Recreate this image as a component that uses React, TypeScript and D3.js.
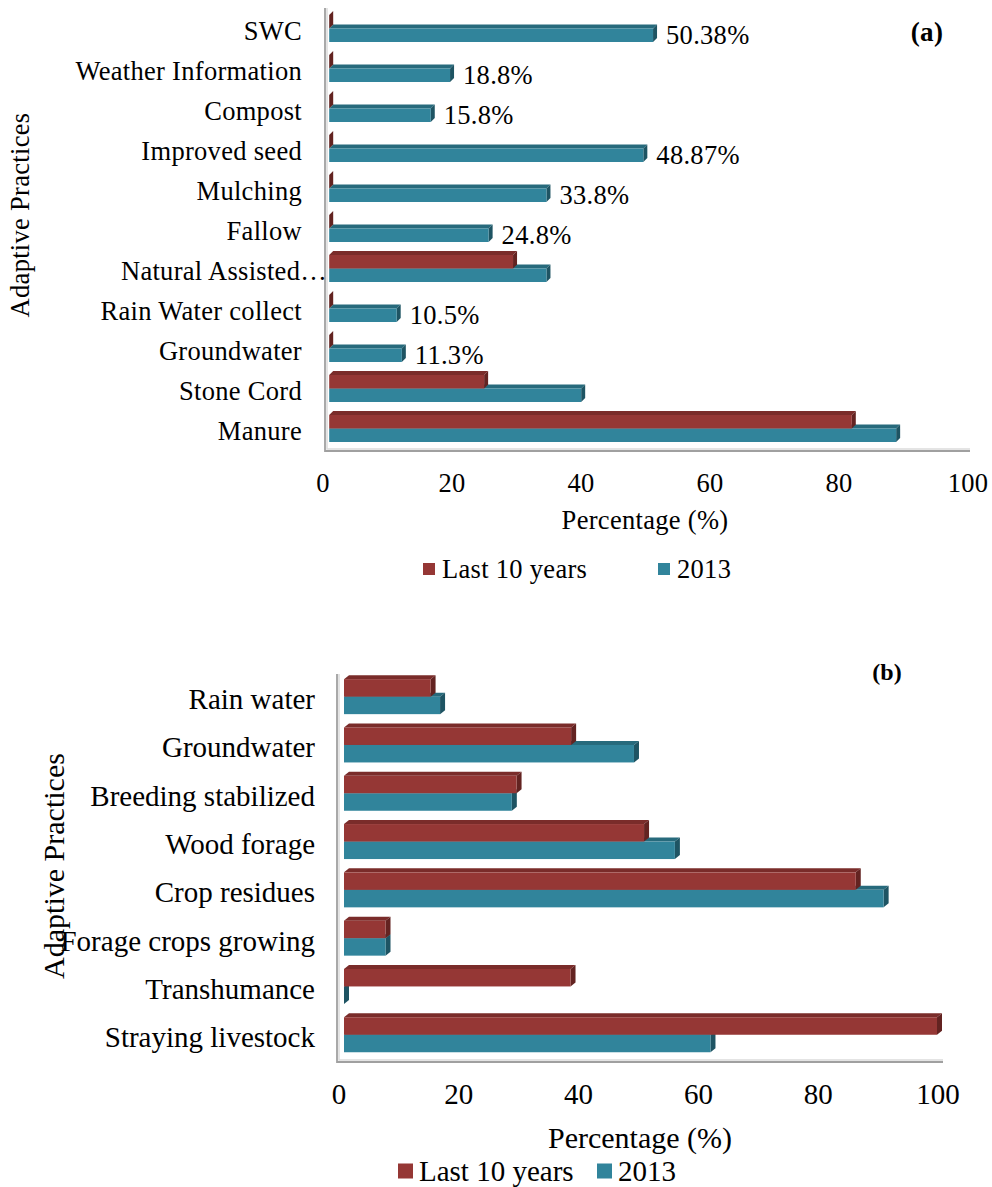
import React from "react";
import * as d3 from "d3";

// ---------- Data ----------
const catsA = [
  "SWC",
  "Weather Information",
  "Compost",
  "Improved seed",
  "Mulching",
  "Fallow",
  "Natural Assisted…",
  "Rain Water collect",
  "Groundwater",
  "Stone Cord",
  "Manure",
];
const last10A = [0, 0, 0, 0, 0, 0, 28.6, 0, 0, 24.1, 81.3];
const y2013A = [50.38, 18.8, 15.8, 48.87, 33.8, 24.8, 33.8, 10.5, 11.3, 39.2, 88.2];
const labelsA = ["50.38%", "18.8%", "15.8%", "48.87%", "33.8%", "24.8%", "", "10.5%", "11.3%", "", ""];

const catsB = [
  "Rain water",
  "Groundwater",
  "Breeding stabilized",
  "Wood forage",
  "Crop residues",
  "Forage crops growing",
  "Transhumance",
  "Straying livestock",
];
const last10B = [14.6, 38.3, 29.1, 50.6, 86.3, 7.0, 38.2, 100];
const y2013B = [16.2, 48.9, 28.3, 55.8, 91.0, 7.0, 0, 61.8];

const ticks = [0, 20, 40, 60, 80, 100];
const seriesNames = ["Last 10 years", "2013"];

const FONT = "Liberation Serif";
const RED = { front: "#953735", top: "#7a2c2a", side: "#632321" };
const TEAL = { front: "#31849b", top: "#276a7c", side: "#1e5463" };

type Col = { front: string; top: string; side: string };

function Bar({ x0, x1, y0, y1, dx, dy, c }: { x0: number; x1: number; y0: number; y1: number; dx: number; dy: number; c: Col }) {
  return (
    <g>
      <polygon points={`${x0},${y0} ${x0 + dx},${y0 - dy} ${x1 + dx},${y0 - dy} ${x1},${y0}`} fill={c.top} />
      <polygon points={`${x1},${y0} ${x1 + dx},${y0 - dy} ${x1 + dx},${y1 - dy} ${x1},${y1}`} fill={c.side} />
      <rect x={x0} y={y0} width={Math.max(0, x1 - x0)} height={y1 - y0} fill={c.front} />
    </g>
  );
}

type PanelCfg = {
  cats: string[];
  s1: number[];
  s2: number[];
  labels?: string[];
  xRange: [number, number];
  tickRange: [number, number];
  bandRange: [number, number];
  thick: number;
  off: number;
  dx: number;
  dy: number;
  frame: { left: number; top: number; floor: number; right: number };
  fs: number;
  ls: number;
  catX: number;
  tickY: number;
  titleX: number;
  titleY: number;
  titleFs: number;
  yTitle: { x: number; y: number; fs: number };
  legend: { y: number; sq: number; x1: number; x2: number; gap: number; fs: number };
  tag: { text: string; x: number; y: number; fs: number };
};

function Panel(p: PanelCfg) {
  const x = d3.scaleLinear().domain([0, 100]).range(p.xRange);
  const tx = d3.scaleLinear().domain([0, 100]).range(p.tickRange);
  const y = d3.scaleBand<string>().domain(p.cats).range(p.bandRange).padding(0);
  const bw = y.bandwidth();
  const { left, top, floor, right } = p.frame;
  const ff = { fontFamily: FONT, letterSpacing: p.ls } as React.CSSProperties;
  return (
    <g style={ff} fill="#000">
      {/* walls / floor */}
      <path d={`M${left + 2},${top} V${floor - 2} H${right}`} fill="none" stroke="#dcdcdc" strokeWidth={1.5} />
      <path d={`M${left},${top} V${floor} H${right}`} fill="none" stroke="#a0a0a0" strokeWidth={1.8} />
      {p.cats.map((c, i) => {
        const mid = (y(c) as number) + bw / 2 + p.off;
        const r0 = mid - p.thick;
        const t1 = mid + p.thick;
        return (
          <g key={c}>
            <Bar x0={x(0)} x1={x(p.s2[i])} y0={mid} y1={t1} dx={p.dx} dy={p.dy} c={TEAL} />
            <Bar x0={x(0)} x1={x(p.s1[i])} y0={r0} y1={mid} dx={p.dx} dy={p.dy} c={RED} />
            {p.labels && p.labels[i] ? (
              <text x={x(p.s2[i]) + 13} y={mid + p.thick / 2} fontSize={p.fs} dominantBaseline="central">
                {p.labels[i]}
              </text>
            ) : null}
          </g>
        );
      })}
      {p.cats.map((c) => (
        <text
          key={"l" + c}
          x={c.endsWith("…") ? p.catX + 25 : p.catX}
          y={(y(c) as number) + bw / 2}
          fontSize={p.fs}
          textAnchor="end"
          dominantBaseline="central"
        >
          {c}
        </text>
      ))}
      {ticks.map((t) => (
        <text key={"t" + t} x={tx(t)} y={p.tickY} fontSize={p.fs} textAnchor="middle" dominantBaseline="central">
          {t}
        </text>
      ))}
      <text x={p.titleX} y={p.titleY} fontSize={p.titleFs} textAnchor="middle" dominantBaseline="central">
        Percentage (%)
      </text>
      <text
        transform={`translate(${p.yTitle.x},${p.yTitle.y}) rotate(-90)`}
        fontSize={p.yTitle.fs}
        textAnchor="middle"
        dominantBaseline="central"
      >
        Adaptive Practices
      </text>
      {/* legend */}
      {[p.legend.x1, p.legend.x2].map((lx, i) => (
        <g key={"lg" + i}>
          <rect
            x={lx}
            y={p.legend.y - p.legend.sq / 2}
            width={p.legend.sq}
            height={p.legend.sq}
            fill={i === 0 ? RED.front : TEAL.front}
          />
          <text x={lx + p.legend.sq + p.legend.gap} y={p.legend.y} fontSize={p.legend.fs} dominantBaseline="central">
            {seriesNames[i]}
          </text>
        </g>
      ))}
      <text x={p.tag.x} y={p.tag.y} fontSize={p.tag.fs} fontWeight="bold" textAnchor="middle" dominantBaseline="central">
        {p.tag.text}
      </text>
    </g>
  );
}

export default function App() {
  return (
    <svg
      width={992}
      height={1187}
      viewBox="0 0 992 1187"
      style={{ position: "absolute", left: 0, top: 0, background: "#fff" }}
    >
      <rect width={992} height={1187} fill="#fff" />
      <Panel
        cats={catsA}
        s1={last10A}
        s2={y2013A}
        labels={labelsA}
        xRange={[329.2, 972]}
        tickRange={[323, 968]}
        bandRange={[11, 451]}
        thick={13.5}
        off={-2.5}
        dx={4}
        dy={4}
        frame={{ left: 325, top: 8, floor: 451, right: 970 }}
        fs={26.5}
        ls={0.3}
        catX={302}
        tickY={483}
        titleX={645}
        titleY={520}
        titleFs={26.5}
        yTitle={{ x: 20, y: 215, fs: 26.5 }}
        legend={{ y: 569, sq: 12, x1: 423, x2: 658, gap: 7, fs: 26.5 }}
        tag={{ text: "(a)", x: 927, y: 32, fs: 27 }}
      />
      <Panel
        cats={catsB}
        s1={last10B}
        s2={y2013B}
        xRange={[344, 937]}
        tickRange={[339, 938]}
        bandRange={[675, 1061.4]}
        thick={17.5}
        off={-2.5}
        dx={5}
        dy={4}
        frame={{ left: 337, top: 674, floor: 1062, right: 943 }}
        fs={29}
        ls={0}
        catX={315}
        tickY={1094}
        titleX={640}
        titleY={1137}
        titleFs={30}
        yTitle={{ x: 53, y: 866, fs: 30 }}
        legend={{ y: 1171, sq: 15, x1: 398, x2: 597, gap: 6, fs: 29 }}
        tag={{ text: "(b)", x: 887, y: 672, fs: 24 }}
      />
    </svg>
  );
}
